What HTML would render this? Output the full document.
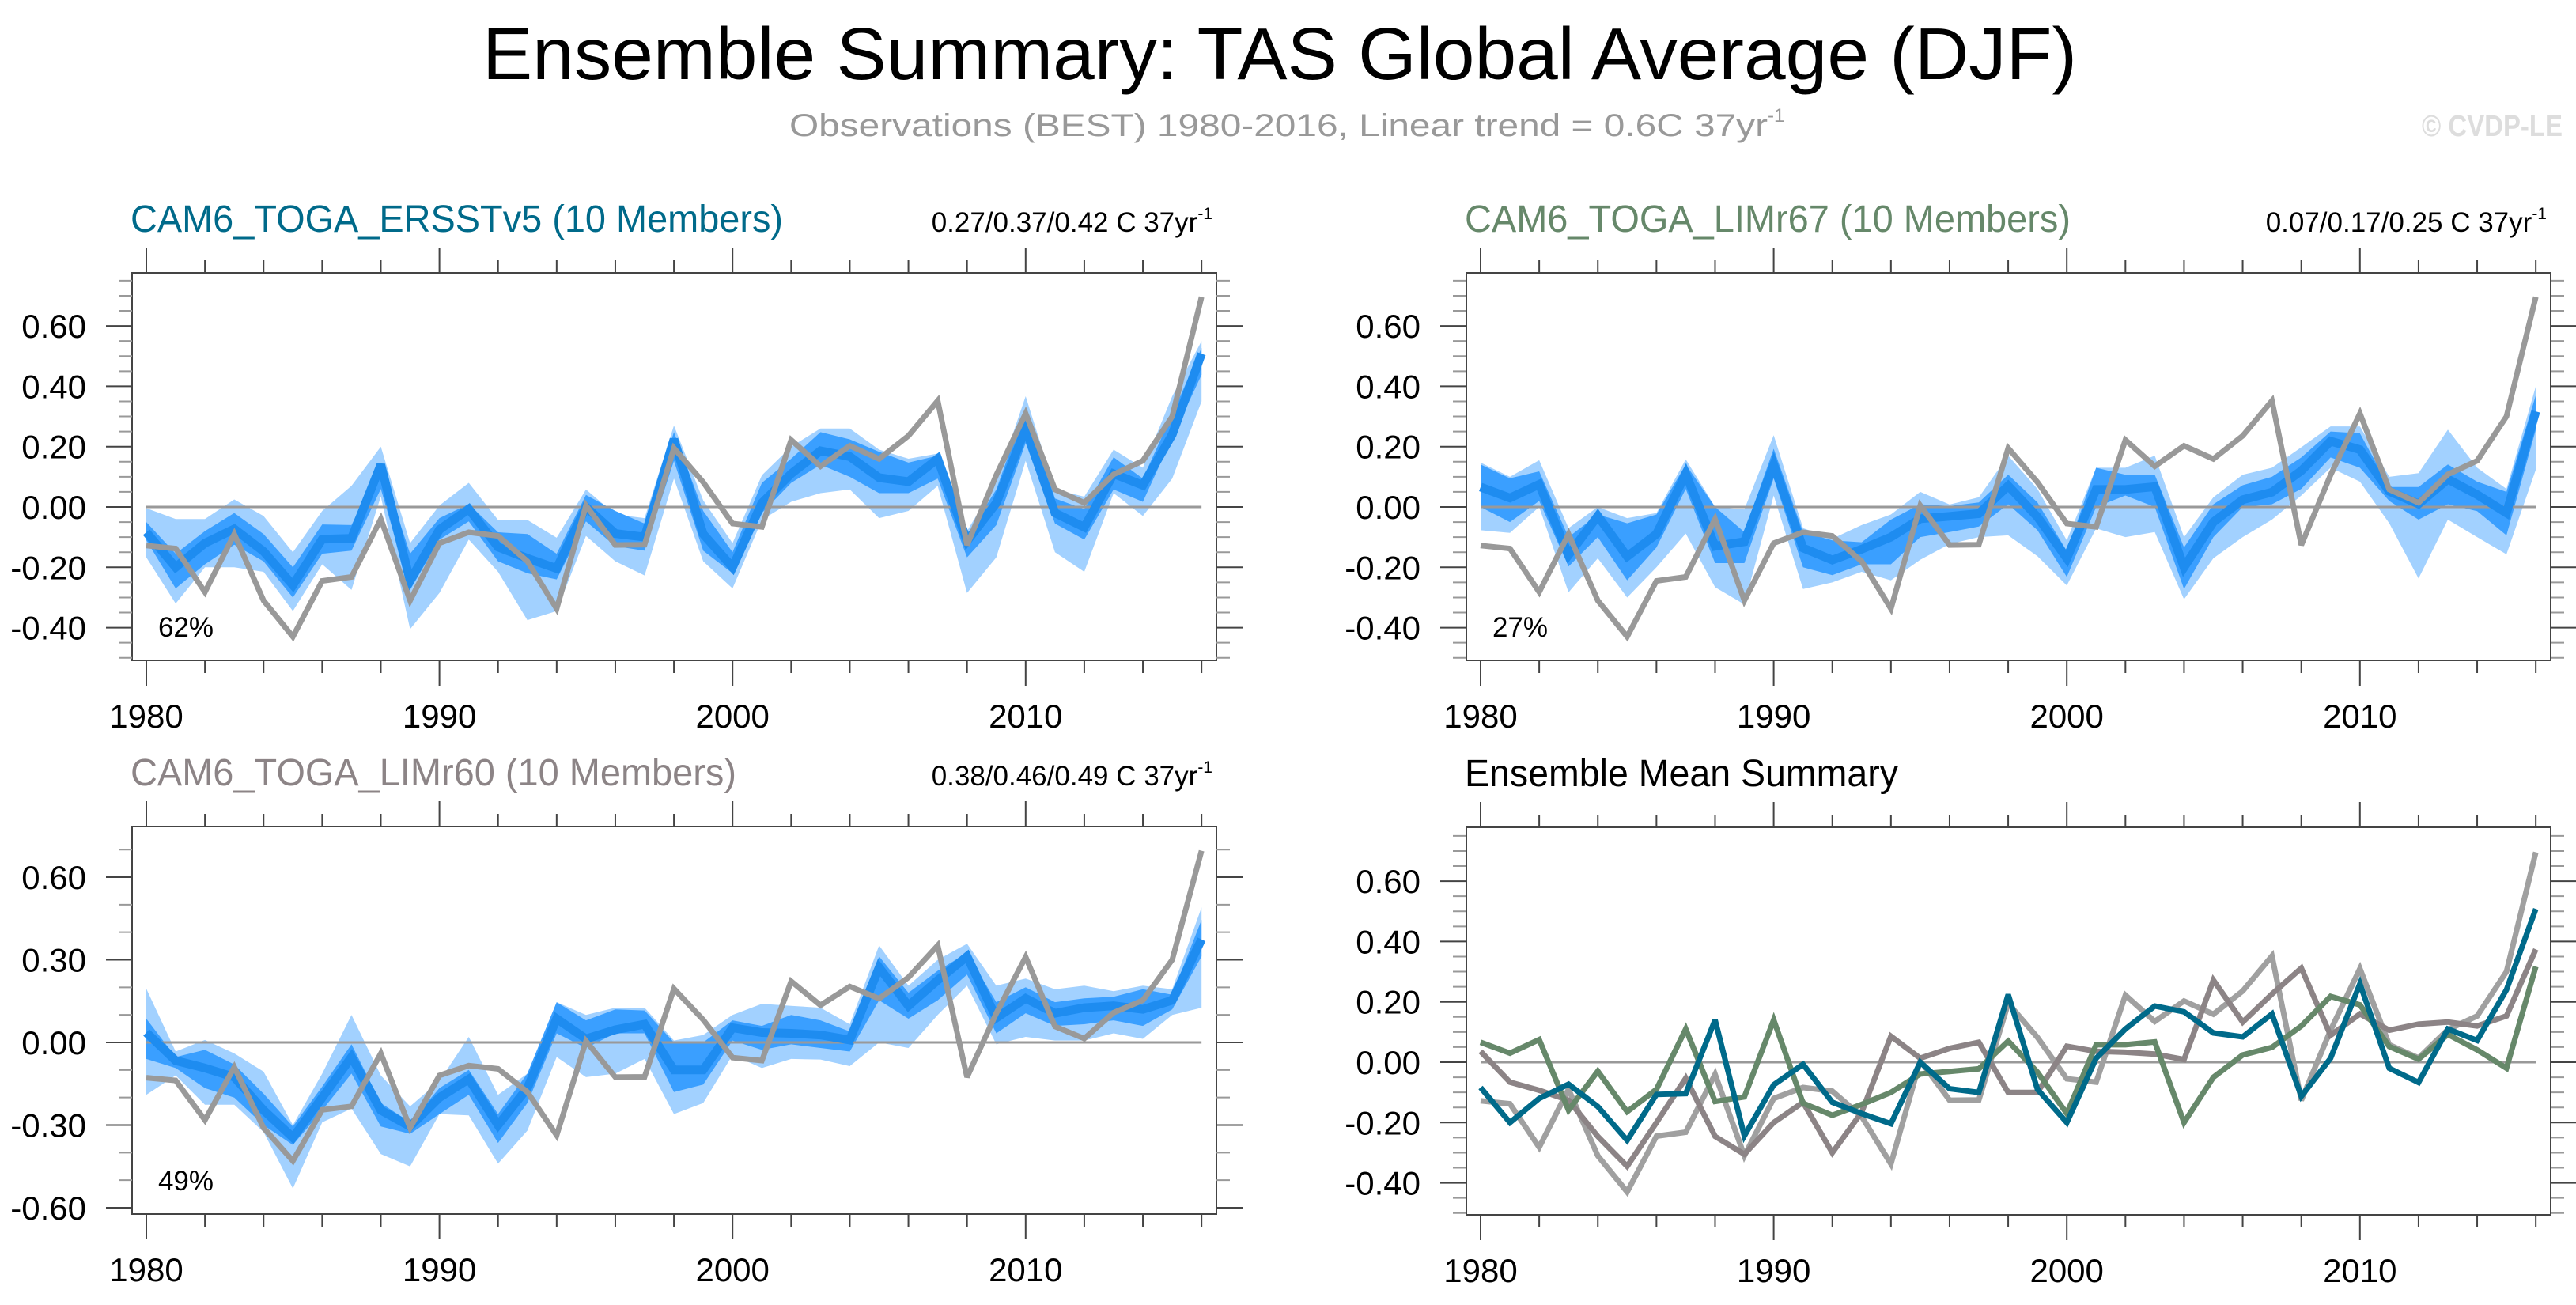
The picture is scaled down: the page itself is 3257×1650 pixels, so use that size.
<!DOCTYPE html>
<html><head><meta charset="utf-8"><title>Ensemble Summary: TAS Global Average (DJF)</title>
<style>html,body{margin:0;padding:0;background:#fff;width:3257px;height:1650px;overflow:hidden}svg{display:block;font-family:"Liberation Sans",sans-serif}</style>
</head><body>
<svg id="fig" xmlns="http://www.w3.org/2000/svg" width="3257" height="1650" viewBox="0 0 3257 1650">
<text x="610" y="100" font-size="93" textLength="2016" lengthAdjust="spacingAndGlyphs" fill="#000">Ensemble Summary: TAS Global Average (DJF)</text>
<text x="998" y="172" font-size="40" fill="#999"><tspan textLength="1237" lengthAdjust="spacingAndGlyphs">Observations (BEST) 1980-2016, Linear trend = 0.6C 37yr</tspan><tspan font-size="24" dy="-18">-1</tspan></text>
<text x="3062" y="172" font-size="38" font-weight="bold" fill="#ddd" textLength="178" lengthAdjust="spacingAndGlyphs">© CVDP-LE</text>
</svg>
<script>
const years = [];
for (let y = 1980; y <= 2016; y++) years.push(y);
const obs = [-0.128,-0.138,-0.282,-0.09,-0.31,-0.43,-0.245,-0.232,-0.04,-0.31,-0.12,-0.084,-0.096,-0.18,-0.337,0.005,-0.126,-0.125,0.195,0.082,-0.055,-0.066,0.222,0.135,0.203,0.159,0.236,0.352,-0.126,0.106,0.31,0.058,0.014,0.108,0.153,0.30,0.696];
const ersMean = [-0.084,-0.20,-0.12,-0.073,-0.147,-0.259,-0.107,-0.104,0.14,-0.244,-0.075,-0.007,-0.133,-0.17,-0.204,0.0,-0.088,-0.10,0.224,-0.09,-0.20,0.013,0.11,0.186,0.167,0.097,0.084,0.16,-0.113,0.013,0.26,-0.02,-0.067,0.11,0.072,0.24,0.508];
const ersOutHi = [-0.004,-0.04,-0.04,0.025,-0.03,-0.15,-0.013,0.07,0.2,-0.12,0.005,0.08,-0.043,-0.043,-0.102,0.058,-0.025,-0.037,0.27,0.022,-0.12,0.105,0.2,0.26,0.26,0.19,0.16,0.177,-0.08,0.082,0.367,0.058,0.034,0.19,0.13,0.367,0.55];
const ersOutLo = [-0.167,-0.32,-0.2,-0.2,-0.215,-0.345,-0.19,-0.275,0.035,-0.405,-0.285,-0.108,-0.215,-0.375,-0.345,-0.096,-0.18,-0.227,0.094,-0.18,-0.27,-0.043,0.017,0.046,0.058,-0.037,-0.013,0.07,-0.285,-0.167,0.153,-0.15,-0.215,0.046,-0.03,0.094,0.35];
const ersInHi = [-0.05,-0.155,-0.08,-0.02,-0.09,-0.2,-0.058,-0.06,0.14,-0.155,-0.037,0.01,-0.084,-0.09,-0.155,0.04,-0.013,-0.055,0.248,-0.013,-0.15,0.08,0.16,0.248,0.224,0.183,0.147,0.17,-0.096,0.058,0.33,0.028,-0.007,0.165,0.094,0.307,0.527];
const ersInLo = [-0.11,-0.27,-0.19,-0.125,-0.18,-0.3,-0.155,-0.145,0.06,-0.275,-0.108,-0.048,-0.18,-0.22,-0.24,-0.048,-0.13,-0.145,0.153,-0.145,-0.22,-0.02,0.08,0.14,0.1,0.046,0.046,0.094,-0.167,-0.06,0.212,-0.055,-0.108,0.058,0.017,0.23,0.438];
const l67Mean = [0.066,0.03,0.075,-0.159,-0.03,-0.164,-0.09,0.11,-0.13,-0.115,0.14,-0.136,-0.176,-0.14,-0.1,-0.039,-0.031,-0.022,0.07,-0.033,-0.17,0.058,0.058,0.067,-0.2,-0.05,0.024,0.049,0.12,0.218,0.19,0.052,0.01,0.092,0.041,-0.02,0.317];
const l67OutHi = [0.147,0.1,0.155,-0.07,0,-0.037,-0.02,0.158,0,-0.008,0.238,-0.07,-0.105,-0.06,-0.025,0.05,0.008,0.032,0.17,0.06,-0.111,0.13,0.13,0.17,-0.1,0.032,0.107,0.13,0.198,0.267,0.267,0.1,0.112,0.256,0.13,0.06,0.4];
const l67OutLo = [-0.077,-0.086,0,-0.283,-0.17,-0.3,-0.2,-0.088,-0.266,-0.323,0.038,-0.272,-0.25,-0.215,-0.243,-0.175,-0.123,-0.1,-0.094,-0.163,-0.26,-0.071,-0.1,-0.083,-0.306,-0.17,-0.1,-0.042,0.038,0.13,0.084,-0.054,-0.237,-0.042,-0.1,-0.157,0.124];
const l67InHi = [0.141,0.095,0.118,-0.1,-0.025,-0.054,-0.025,0.141,0,-0.083,0.193,-0.083,-0.111,-0.117,-0.042,0.009,0.003,0.015,0.107,0.015,-0.146,0.13,0.107,0.107,-0.134,0.009,0.072,0.1,0.164,0.25,0.244,0.066,0.066,0.141,0.084,0.05,0.37];
const l67InLo = [0,-0.05,0.02,-0.197,-0.1,-0.243,-0.134,0.06,-0.186,-0.186,0.095,-0.2,-0.226,-0.19,-0.19,-0.1,-0.083,-0.065,0.009,-0.077,-0.232,0,0.038,0,-0.272,-0.1,0,0.009,0.06,0.164,0.13,0.02,-0.042,0.009,-0.014,-0.094,0.256];
const l60Mean = [0.036,-0.066,-0.093,-0.126,-0.246,-0.345,-0.2,-0.053,-0.246,-0.305,-0.2,-0.133,-0.3,-0.166,0.086,0.013,0.046,0.066,-0.1,-0.1,0.053,0.036,0.033,0.027,0.009,0.272,0.133,0.226,0.312,0.089,0.16,0.106,0.126,0.133,0.12,0.153,0.374];
const l60OutHi = [0.195,-0.033,0.009,-0.04,-0.106,-0.3,-0.113,0.1,-0.12,-0.232,-0.14,0.02,-0.19,-0.113,0.146,0.1,0.126,0.126,0.007,0.027,0.1,0.14,0.133,0.126,0.066,0.352,0.206,0.3,0.358,0.206,0.232,0.193,0.206,0.186,0.206,0.193,0.49];
const l60OutLo = [-0.19,-0.12,-0.226,-0.226,-0.325,-0.53,-0.29,-0.24,-0.405,-0.45,-0.26,-0.265,-0.44,-0.32,-0.053,-0.126,-0.113,-0.06,-0.26,-0.22,-0.046,-0.093,-0.06,-0.062,-0.086,0,-0.02,0.1,0.206,-0.007,0.02,0.007,0.007,0.033,0.013,0.1,0.126];
const l60InHi = [0.086,-0.053,-0.027,-0.08,-0.186,-0.305,-0.16,-0.007,-0.22,-0.29,-0.166,-0.1,-0.26,-0.113,0.146,0.08,0.12,0.116,0,0,0.08,0.06,0.1,0.08,0.04,0.312,0.18,0.26,0.325,0.146,0.2,0.146,0.16,0.166,0.193,0.173,0.445];
const l60InLo = [-0.06,-0.093,-0.166,-0.2,-0.3,-0.372,-0.246,-0.113,-0.305,-0.332,-0.26,-0.19,-0.365,-0.22,0.033,-0.02,0.033,0.033,-0.18,-0.153,0.007,-0.027,-0.007,-0.02,-0.033,0.153,0.086,0.153,0.246,0.033,0.106,0.06,0.066,0.08,0.06,0.12,0.312];
const ticks4 = [-0.4,-0.2,0,0.2,0.4,0.6];
const tickLabels4 = ["-0.40","-0.20","0.00","0.20","0.40","0.60"];
const ticks3 = [-0.6,-0.3,0,0.3,0.6];
const tickLabels3 = ["-0.60","-0.30","0.00","0.30","0.60"];
const yearLabels = ["1980","1990","2000","2010"];

const NS = "http://www.w3.org/2000/svg";
const svg = document.getElementById('fig');
function mk(tag, attrs, parent) {
  const e = document.createElementNS(NS, tag);
  for (const k in attrs) e.setAttribute(k, attrs[k]);
  (parent || svg).appendChild(e);
  return e;
}
const W = 1371, H = 490;

function panel(cfg) {
  const g = mk('g', {});
  
  
  const x0 = cfg.x0, y0 = cfg.y0;
  const xs = yr => x0 + 18 + (yr - 1980) * 37.06;
  const ys = v => cfg.zeroY + (-v) * cfg.pxPerUnit;
  const t = mk('text', {x: x0 - 2, y: y0 - 52, 'font-size': 48, fill: cfg.titleColor}, g);
  if (cfg.titleLen) { t.setAttribute('textLength', cfg.titleLen); t.setAttribute('lengthAdjust', 'spacingAndGlyphs'); }
  t.textContent = cfg.title;
  
  
  if (cfg.trend) {
    const tr = mk('text', {x: x0 + 1366, y: y0 - 52, 'font-size': 35, fill: '#000', 'text-anchor': 'end'}, g);
    
    
    const a = mk('tspan', {}, tr); a.textContent = cfg.trend + ' C 37yr';
    const b = mk('tspan', {'font-size': 21, dy: -16}, tr); b.textContent = '-1';
  }
  const band = (hi, lo, col, nm) => {
    let d = '';
    years.forEach((yr, i) => { d += (i ? 'L' : 'M') + xs(yr).toFixed(1) + ',' + ys(hi[i]).toFixed(1); });
    for (let i = years.length - 1; i >= 0; i--) d += 'L' + xs(years[i]).toFixed(1) + ',' + ys(lo[i]).toFixed(1);
    const p = mk('path', {d: d + 'Z', fill: col}, g);
    
    
  };
  if (cfg.outHi) band(cfg.outHi, cfg.outLo, '#a2d1ff', 'outer-spread-band');
  if (cfg.inHi) band(cfg.inHi, cfg.inLo, '#3a9fff', 'inner-spread-band');
  const z = mk('line', {x1: x0 + 18, x2: xs(2016), y1: ys(0), y2: ys(0), stroke: '#999', 'stroke-width': 3}, g);
  
  
  const line = (vals, col, w, nm) => {
    const pts = years.map((yr, i) => xs(yr).toFixed(1) + ',' + ys(vals[i]).toFixed(1)).join(' ');
    const p = mk('polyline', {points: pts, fill: 'none', stroke: col, 'stroke-width': w, 'stroke-linejoin': 'miter', 'stroke-miterlimit': 3}, g);
    
    
  };
  cfg.lines.forEach(l => line(l.v, l.c, l.w, l.n));
  const f = mk('rect', {x: x0, y: y0, width: W, height: H, fill: 'none', stroke: '#444', 'stroke-width': 2}, g);
  
  
  for (let yr = 1980; yr <= 2016; yr += 2) {
    const major = (yr % 10 === 0);
    const L = major ? 32 : 16;
    mk('line', {x1: xs(yr), x2: xs(yr), y1: y0, y2: y0 - L, stroke: '#444', 'stroke-width': 2}, g);
    mk('line', {x1: xs(yr), x2: xs(yr), y1: y0 + H, y2: y0 + H + L, stroke: '#444', 'stroke-width': 2}, g);
  }
  yearLabels.forEach(lbl => {
    const tx = mk('text', {x: xs(+lbl), y: y0 + H + 85, 'font-size': 42, 'text-anchor': 'middle', fill: '#000'}, g);
    tx.textContent = lbl;
    
    
  });
  const vTop = (cfg.zeroY - y0) / cfg.pxPerUnit, vBot = -(y0 + H - cfg.zeroY) / cfg.pxPerUnit;
  for (let k = -20; k <= 20; k++) {
    const v = k * cfg.minor;
    if (v > vTop + 1e-6 || v < vBot - 1e-6) continue;
    const major = cfg.ticks.some(t => Math.abs(t - v) < 1e-6);
    const L = major ? 33 : 17;
    const yy = ys(v);
    mk('line', {x1: x0, x2: x0 - L, y1: yy, y2: yy, stroke: major ? '#444' : '#999', 'stroke-width': 2}, g);
    mk('line', {x1: x0 + W, x2: x0 + W + L, y1: yy, y2: yy, stroke: major ? '#444' : '#999', 'stroke-width': 2}, g);
  }
  cfg.ticks.forEach((v, i) => {
    const tx = mk('text', {x: x0 - 58, y: ys(v) + 15, 'font-size': 42, 'text-anchor': 'end', fill: '#000'}, g);
    tx.textContent = cfg.tickLabels[i];
    
    
  });
  if (cfg.pct) {
    const tx = mk('text', {x: x0 + 68, y: y0 + H - 30, 'font-size': 35, 'text-anchor': 'middle', fill: '#000'}, g);
    tx.textContent = cfg.pct;
    
    
  }
}

const BLUE = '#1e8cf0', OBS = '#999999';
panel({name: 'panel-ersstv5', x0: 167, y0: 345, zeroY: 641, pxPerUnit: 381.5, minor: 0.05, ticks: ticks4, tickLabels: tickLabels4,
  title: 'CAM6_TOGA_ERSSTv5 (10 Members)', titleLen: 825, titleColor: '#006a8a', trend: '0.27/0.37/0.42', pct: '62%',
  outHi: ersOutHi, outLo: ersOutLo, inHi: ersInHi, inLo: ersInLo,
  lines: [{v: ersMean, c: BLUE, w: 11, n: 'ensemble-mean-line'}, {v: obs, c: OBS, w: 7, n: 'observations-line'}]});
panel({name: 'panel-limr67', x0: 1854, y0: 345, zeroY: 641, pxPerUnit: 381.5, minor: 0.05, ticks: ticks4, tickLabels: tickLabels4,
  title: 'CAM6_TOGA_LIMr67 (10 Members)', titleLen: 766, titleColor: '#66886a', trend: '0.07/0.17/0.25', pct: '27%',
  outHi: l67OutHi, outLo: l67OutLo, inHi: l67InHi, inLo: l67InLo,
  lines: [{v: l67Mean, c: BLUE, w: 11, n: 'ensemble-mean-line'}, {v: obs, c: OBS, w: 7, n: 'observations-line'}]});
panel({name: 'panel-limr60', x0: 167, y0: 1045, zeroY: 1318, pxPerUnit: 348.3, minor: 0.1, ticks: ticks3, tickLabels: tickLabels3,
  title: 'CAM6_TOGA_LIMr60 (10 Members)', titleLen: 766, titleColor: '#8c8486', trend: '0.38/0.46/0.49', pct: '49%',
  outHi: l60OutHi, outLo: l60OutLo, inHi: l60InHi, inLo: l60InLo,
  lines: [{v: l60Mean, c: BLUE, w: 11, n: 'ensemble-mean-line'}, {v: obs, c: OBS, w: 7, n: 'observations-line'}]});
panel({name: 'panel-ensemble-mean-summary', x0: 1854, y0: 1046, zeroY: 1343, pxPerUnit: 381.5, minor: 0.05, ticks: ticks4, tickLabels: tickLabels4,
  title: 'Ensemble Mean Summary', titleLen: 548, titleColor: '#000',
  lines: [{v: obs, c: '#a0a0a0', w: 7, n: 'observations-line'},
          {v: l60Mean, c: '#8c8486', w: 7, n: 'limr60-mean-line'},
          {v: l67Mean, c: '#66886a', w: 7, n: 'limr67-mean-line'},
          {v: ersMean, c: '#006a8a', w: 7, n: 'ersstv5-mean-line'}]});
</script>
</body></html>
